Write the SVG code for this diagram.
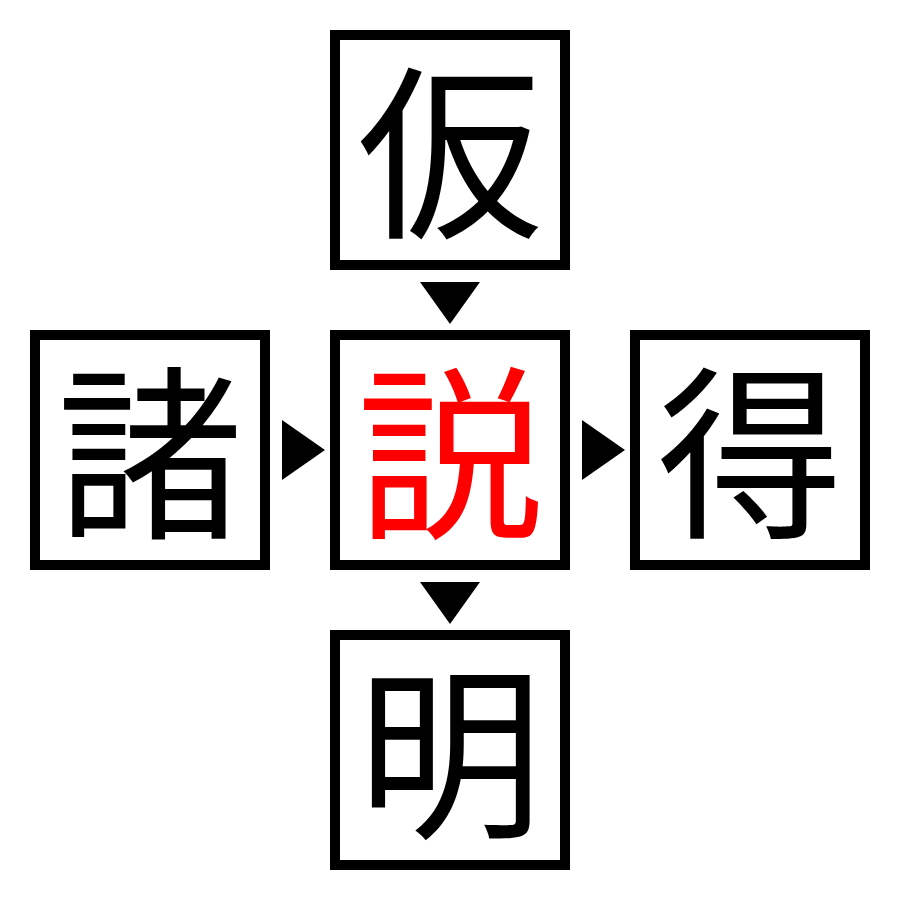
<svg xmlns="http://www.w3.org/2000/svg" width="900" height="900" viewBox="0 0 900 900">
<style>
.box{fill:#fff;stroke:#000;stroke-width:10}
.k{font-family:"Noto Sans CJK JP","Noto Sans CJK SC",sans-serif;font-size:186px;text-anchor:middle;fill:#000}
.c{fill:#f00}
.arr{fill:#000}
</style>
<rect width="900" height="900" fill="#fff"/>
<g id="connectors">
<polygon class="arr" points="420,282 480,282 450,324"/>
<polygon class="arr" points="420,582 480,582 450,624"/>
<polygon class="arr" points="282,420 282,480 325,450"/>
<polygon class="arr" points="582,420 582,480 625,450"/>
</g>
<g id="node-ka"><rect class="box" x="335" y="35" width="230" height="230"/><text class="k" x="450" y="224">仮</text></g>
<g id="node-sho"><rect class="box" x="35" y="335" width="230" height="230"/><text class="k" x="150" y="524">諸</text></g>
<g id="node-setsu"><rect class="box" x="335" y="335" width="230" height="230"/><text class="k c" x="450" y="524">説</text></g>
<g id="node-toku"><rect class="box" x="635" y="335" width="230" height="230"/><text class="k" x="750" y="524">得</text></g>
<g id="node-mei"><rect class="box" x="335" y="635" width="230" height="230"/><text class="k" x="450" y="824">明</text></g>
</svg>
